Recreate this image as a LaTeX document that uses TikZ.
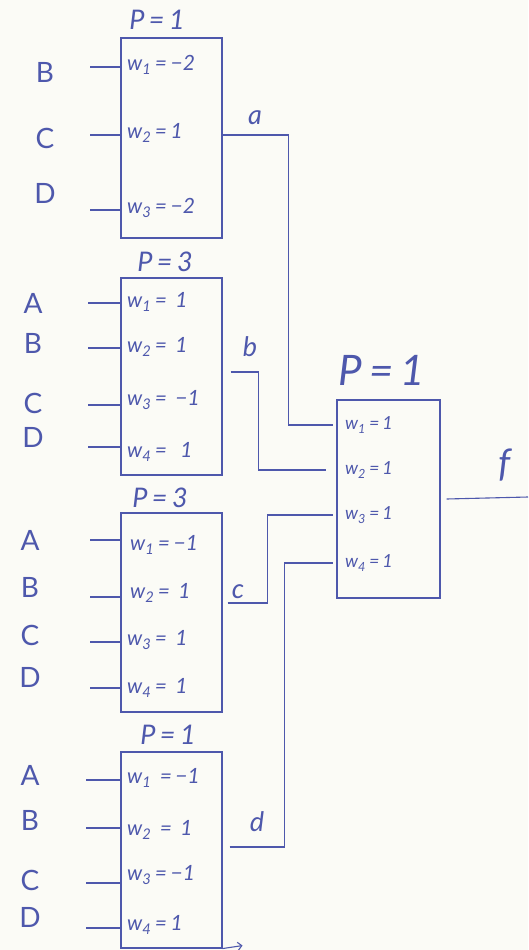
\documentclass[tikz,border=0pt]{standalone}
\usepackage{fontspec}
\setmainfont{Lato}
\usetikzlibrary{arrows.meta}
\definecolor{ink}{RGB}{78,88,172}
\definecolor{paper}{RGB}{251,251,246}
\begin{document}
\begin{tikzpicture}[x=1pt,y=-1pt,
  unit/.style={draw=ink, line width=1.1pt, minimum width=101pt, inner sep=0pt},
  wt/.style={text=ink, anchor=west, inner sep=0pt, font=\fontsize{21}{22}\selectfont\itshape},
  fwt/.style={wt, font=\fontsize{18}{19}\selectfont\itshape},
  inp/.style={text=ink, inner sep=0pt, font=\fontsize{28}{30}\selectfont},
  thr/.style={text=ink, inner sep=0pt, font=\fontsize{27}{28}\selectfont\itshape},
  outl/.style={text=ink, inner sep=0pt, font=\fontsize{27}{28}\selectfont\itshape},
  wire/.style={draw=ink, line width=1.1pt}]
\fill[paper] (0,0) rectangle (528,950);
\useasboundingbox (0,0) rectangle (528,950);

% hidden-layer units
\node[unit, minimum height=200pt] (n1) at (171.5,138) {};
\node[unit, minimum height=197pt] (n2) at (171.5,376.5) {};
\node[unit, minimum height=199pt] (n3) at (171.5,612.5) {};
\node[unit, minimum height=196pt] (n4) at (171.5,850) {};
% output unit
\node[unit, minimum width=103pt, minimum height=198pt] (fin) at (388.5,499) {};

% thresholds
\node[thr] (p1) at (157,20) {P\,=\,1};
\node[thr] (p2) at (165,262) {P\,=\,3};
\node[thr] (p3) at (160,498) {P\,=\,3};
\node[thr] (p4) at (168,735) {P\,=\,1};
\node[thr, font=\fontsize{42}{44}\selectfont\itshape] (pf) at (382,370) {P\,=\,1};

% weights
\node[wt] (w11) at (127,65) {w\textsubscript{1}\,=\,−2};
\node[wt] (w12) at (127,133) {w\textsubscript{2}\,=\,1};
\node[wt] (w13) at (127,208) {w\textsubscript{3}\,=\,−2};

\node[wt] (w21) at (127,302) {w\textsubscript{1}\,=\,\ 1};
\node[wt] (w22) at (127,347) {w\textsubscript{2}\,=\,\ 1};
\node[wt] (w23) at (127,400) {w\textsubscript{3}\,=\,\ −1};
\node[wt] (w24) at (127,452) {w\textsubscript{4}\,=\,\ \ 1};

\node[wt] (w31) at (130,545) {w\textsubscript{1}\,=\,−1};
\node[wt] (w32) at (130,593) {w\textsubscript{2}\,=\,\ 1};
\node[wt] (w33) at (127,640) {w\textsubscript{3}\,=\,\ 1};
\node[wt] (w34) at (127,688) {w\textsubscript{4}\,=\,\ 1};

\node[wt] (w41) at (127,778) {w\textsubscript{1}\,\ =\,−1};
\node[wt] (w42) at (127,830) {w\textsubscript{2}\,\ =\,\ 1};
\node[wt] (w43) at (127,875) {w\textsubscript{3}\,=\,−1};
\node[wt] (w44) at (127,925) {w\textsubscript{4}\,=\,1};

\node[fwt] (fw1) at (345,425) {w\textsubscript{1}\,=\,1};
\node[fwt] (fw2) at (345,470) {w\textsubscript{2}\,=\,1};
\node[fwt] (fw3) at (345,515) {w\textsubscript{3}\,=\,1};
\node[fwt] (fw4) at (345,563) {w\textsubscript{4}\,=\,1};

% inputs of unit 1
\foreach \l/\t/\s in {B/72/67, C/138/135, D/193/210}{
  \node[inp] (a\l) at (45,\t) {\l};
  \draw[wire] (90,\s) -- (n1.west |- 0,\s);
}
% inputs of unit 2
\foreach \l/\t/\s in {A/303/303, B/343/348, C/403/405, D/437/447}{
  \node[inp] (b\l) at (33,\t) {\l};
  \draw[wire] (88,\s) -- (n2.west |- 0,\s);
}
% inputs of unit 3
\foreach \l/\t/\s in {A/540/540, B/587/597, C/635/642, D/677/688}{
  \node[inp] (c\l) at (30,\t) {\l};
  \draw[wire] (90,\s) -- (n3.west |- 0,\s);
}
% inputs of unit 4
\foreach \l/\t/\s in {A/775/780, B/820/828, C/880/883, D/917/928}{
  \node[inp] (d\l) at (30,\t) {\l};
  \draw[wire] (86,\s) -- (n4.west |- 0,\s);
}

% hidden outputs
\node[outl] (la) at (255,118) {a};
\node[outl] (lb) at (250,347) {b};
\node[outl] (lc) at (238,592) {c};
\node[outl] (ld) at (257,822) {d};

\draw[wire] ([yshift=3pt]n1.east) -| ([xshift=-48pt]fin.west |- fw1) -- ([xshift=-3pt]fin.west |- fw1);
\draw[wire] ([yshift=4.5pt,xshift=8pt]n2.east) -| ([xshift=-78pt]fin.west |- fw2) -- ([xshift=-10pt]fin.west |- fw2);
\draw[wire] ([yshift=9.5pt,xshift=5pt]n3.east) -| ([xshift=-69pt]fin.west |- fw3) -- ([xshift=-3pt]fin.west |- fw3);
\draw[wire] ([yshift=3pt,xshift=7pt]n4.east) -| ([xshift=-52pt]fin.west |- fw4) -- ([xshift=-3pt]fin.west |- fw4);

% network output
\draw[wire] ([xshift=6pt]fin.east) -- (528,497);
\node[outl, font=\fontsize{38}{40}\selectfont\itshape] (lf) at (505,465) {f};

% stray stroke below unit 4
\draw[wire, -{Straight Barb[length=4pt]}] (n4.south east) -- ++(20,-3);
\end{tikzpicture}
\end{document}
